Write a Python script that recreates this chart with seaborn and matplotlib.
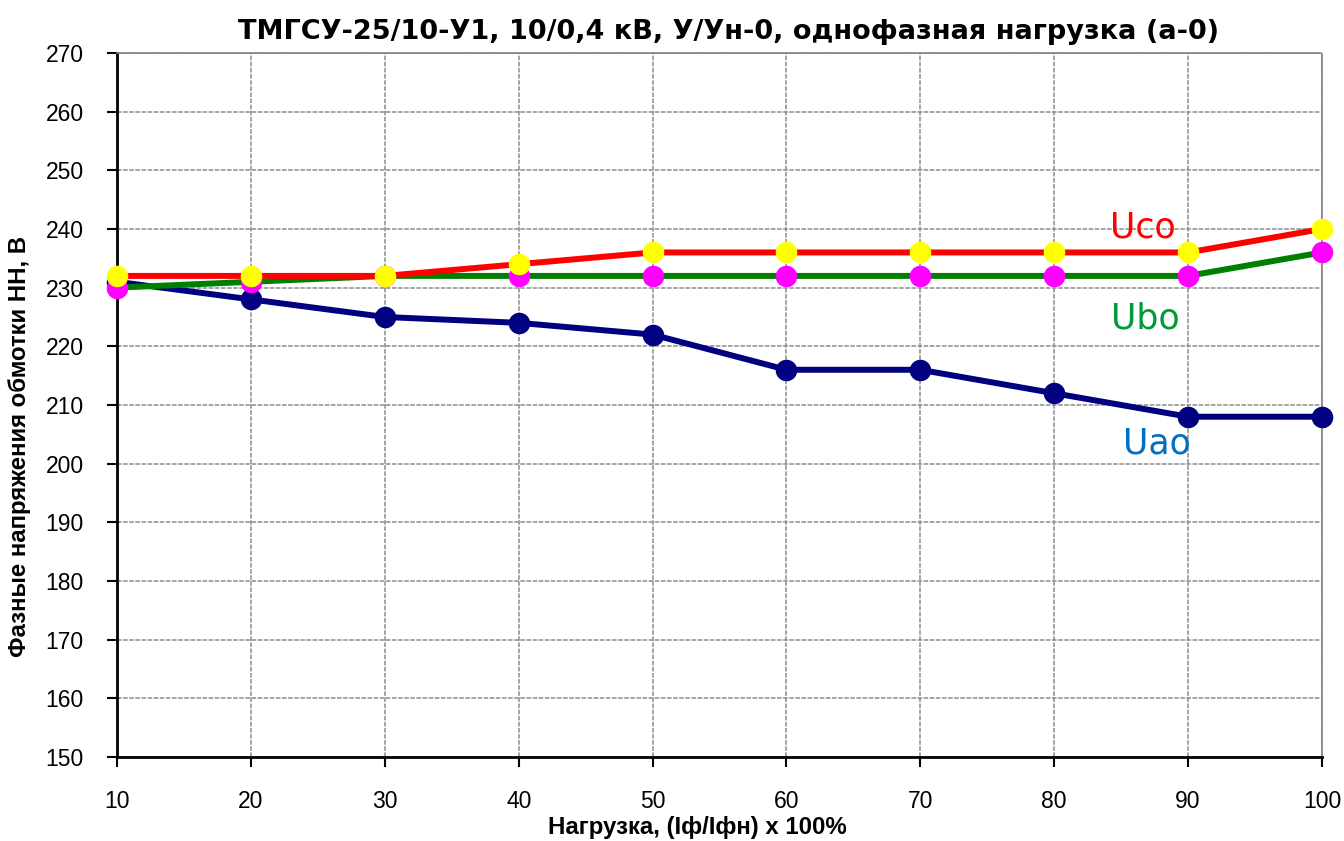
import matplotlib
matplotlib.use("Agg")
import matplotlib.pyplot as plt
import seaborn as sns
import pandas as pd

load = [10, 20, 30, 40, 50, 60, 70, 80, 90, 100]
u_ao = [231, 228, 225, 224, 222, 216, 216, 212, 208, 208]
u_bo = [230, 231, 232, 232, 232, 232, 232, 232, 232, 236]
u_co = [232, 232, 232, 234, 236, 236, 236, 236, 236, 240]

title = "ТМГСУ-25/10-У1, 10/0,4 кВ, У/Ун-0, однофазная нагрузка (а-0)"
xlabel = "Нагрузка, (Iф/Iфн) x 100%"
ylabel = "Фазные напряжения обмотки НН, В"
xticks = [10, 20, 30, 40, 50, 60, 70, 80, 90, 100]
yticks = list(range(150, 271, 10))

sns.set_theme(style="white")
plt.rcParams['font.family'] = ['Liberation Sans', 'DejaVu Sans']
plt.rcParams['text.color'] = 'black'
plt.rcParams['axes.labelcolor'] = 'black'
plt.rcParams['xtick.color'] = 'black'
plt.rcParams['ytick.color'] = 'black'

fig = plt.figure(figsize=(13.44, 8.41), dpi=100)
ax = fig.add_axes([0.0871, 0.0999, 0.8965, 0.8371])

df = pd.DataFrame({"load": load, "Uao": u_ao, "Ubo": u_bo, "Uco": u_co})

series = [
    ("Uao", "#000080", "#000080"),
    ("Ubo", "#008000", "#FF00FF"),
    ("Uco", "#FF0000", "#FFFF00"),
]
for i, (col, lc, mc) in enumerate(series):
    sns.lineplot(data=df, x="load", y=col, ax=ax, color=lc, linewidth=4.3,
                 marker="o", markersize=15.5, markerfacecolor=mc,
                 markeredgecolor=mc, markeredgewidth=0, zorder=3 + i,
                 clip_on=False)

ax.set_xlim(10, 100)
ax.set_ylim(150, 270)
ax.set_xticks(xticks)
ax.set_yticks(yticks)
ax.set_xticklabels([str(v) for v in xticks])
ax.set_yticklabels([str(v) for v in yticks])

ax.grid(True, color="#8c8c8c", linestyle=(0, (3, 1)), linewidth=1.1)
ax.set_axisbelow(True)

for s in ["left", "bottom"]:
    ax.spines[s].set_color("black")
    ax.spines[s].set_linewidth(2)
for s in ["top", "right"]:
    ax.spines[s].set_color("#808080")
    ax.spines[s].set_linewidth(1.2)
    ax.spines[s].set_linestyle((0, (2, 1)))

ax.tick_params(axis="both", which="major", direction="out", length=7,
               width=1.5, color="black", labelsize=16.5, labelcolor="black")
ax.tick_params(axis="x", pad=17)
ax.tick_params(axis="y", pad=17)
ax.tick_params(left=True, bottom=True)

ax.set_xlabel(xlabel, fontsize=17.3, fontweight="bold", va="center")
ax.set_ylabel(ylabel, fontsize=17.3, fontweight="bold", va="center")
ax.xaxis.set_label_coords((697 - 117) / 1205, -(828 - 757) / 704)
ax.yaxis.set_label_coords(-(117 - 19) / 1205, (757 - 446) / 704)
ax.set_title(title, fontsize=19.5, fontweight="bold",
             family=["DejaVu Sans"], pad=10)
ax.title.set_position(((729 - 117) / 1205, 1.0))

ax.text(86.6, 240.2, "Uco", color="#FF0000", fontsize=25,
        family=["DejaVu Sans"], ha="center", va="center", zorder=10)
ax.text(86.8, 224.7, "Ubo", color="#009A3A", fontsize=25,
        family=["DejaVu Sans"], ha="center", va="center", zorder=10)
ax.text(87.7, 203.4, "Uao", color="#0070C0", fontsize=25,
        family=["DejaVu Sans"], ha="center", va="center", zorder=10)

fig.savefig("out.png", dpi=100)
